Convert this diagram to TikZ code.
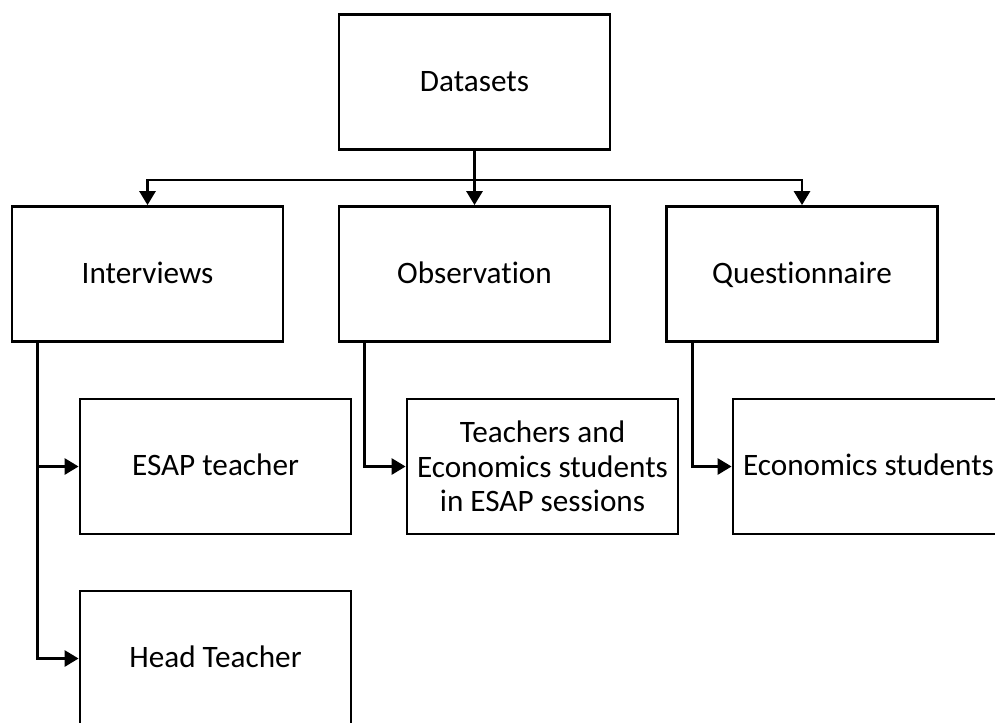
\documentclass[tikz,border=0pt]{standalone}
\usepackage{fontspec}
\setmainfont{Carlito}[Ligatures=NoCommon]
\usetikzlibrary{arrows.meta,calc}
\begin{document}
\begin{tikzpicture}[
  x=0.75pt, y=-0.75pt,
  box/.style={draw, line width=2.1pt, fill=white, minimum width=203.25pt,
    minimum height=101.25pt, inner sep=2pt, align=center,
    font=\fontsize{23.4}{25.9}\selectfont},
  oneline/.style={text height=17pt, text depth=3.5pt},
  link/.style={line width=2.1pt},
  arr/.style={link, -{Triangle[length=10.5pt,width=12pt]}}
]
\useasboundingbox (0,0) rectangle (995,722);
\clip (0,0) rectangle (995,722);

% top level
\node[box, oneline] (ds) at (474.5,82) {Datasets};

% datasets by type
\node[box, oneline] (int) at (147.5,274) {Interviews};
\node[box, oneline] (obs) at (474.5,274) {Observation};
\node[box, oneline] (que) at (802,274) {Questionnaire};

% participants
\node[box, oneline] (esap)  at (215.5,466.5) {ESAP teacher};
\node[box, oneline] (head)  at (215.5,658.5) {Head Teacher};
\node[box] (teach) at (542.5,466.5) {Teachers and\\Economics students\\in ESAP sessions};
\node[box, oneline] (econ)  at (868.5,466.5) {Economics students};

% branching from the top box
\coordinate (split) at ($(ds.south)+(0,29)$);
\draw[link] (ds.south) -- (split);
\draw[arr] (split) -| (int.north);
\draw[arr] (split) -| (que.north);
\draw[arr] (split) -- (obs.north);

% stems down to participants
\coordinate (intstem) at ([xshift=20.25pt]int.south west);
\coordinate (obsstem) at ([xshift=20.25pt]obs.south west);
\coordinate (questem) at ([xshift=20.25pt]que.south west);
\draw[arr] (intstem) |- (esap.west);
\draw[arr] (intstem) |- (head.west);
\draw[arr] (obsstem) |- (teach.west);
\draw[arr] (questem) |- (econ.west);
\end{tikzpicture}
\end{document}
